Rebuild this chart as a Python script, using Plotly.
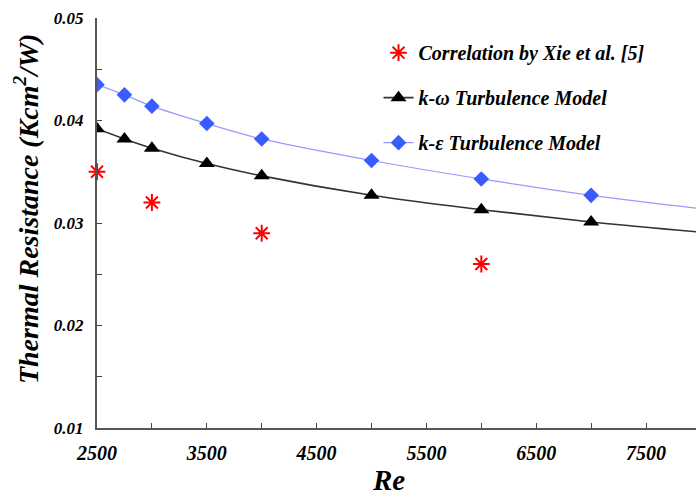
import plotly.graph_objects as go

re_model = [2500, 2750, 3000, 3500, 4000, 5000, 6000, 7000, 8000]
k_omega = [0.0392, 0.0382, 0.0373, 0.0358, 0.0346, 0.0327, 0.0313, 0.0301, 0.0291]
k_eps = [0.0435, 0.0425, 0.0414, 0.0397, 0.0382, 0.0361, 0.0343, 0.0327, 0.0314]
re_corr = [2500, 3000, 4000, 6000, 8000]
corr = [0.035, 0.032, 0.029, 0.026, 0.024]

FONT = "Liberation Serif"

fig = go.Figure()
fig.add_trace(go.Scatter(
    x=re_corr, y=corr, mode="markers", name="Correlation by Xie et al. [5]",
    legendgroup="a",
    marker=dict(symbol="asterisk-open", size=14, color="red",
                line=dict(color="red", width=2)),
    cliponaxis=False))
fig.add_trace(go.Scatter(
    x=re_model, y=k_omega, mode="lines+markers", name="k-ω Turbulence Model",
    legendgroup="b",
    line=dict(color="#333333", width=1.6, shape="spline"),
    marker=dict(symbol="triangle-up", size=14, color="black"),
    cliponaxis=True))
fig.add_trace(go.Scatter(
    x=re_model, y=k_eps, mode="lines+markers", name="k-ε Turbulence Model",
    legendgroup="c",
    line=dict(color="#9999ff", width=1.2, shape="spline"),
    marker=dict(symbol="diamond", size=12, color="#3a5cff"),
    cliponaxis=True))

fig.update_layout(
    width=696, height=495,
    margin=dict(l=97, r=0, t=18, b=67),
    paper_bgcolor="white", plot_bgcolor="white",
    font=dict(family=FONT, color="black"),
    showlegend=True,
    legend=dict(x=0.47, y=0.963, xanchor="left", yanchor="top",
                bgcolor="rgba(0,0,0,0)", tracegroupgap=16, traceorder="grouped",
                font=dict(family=FONT, size=20, style="italic", weight="bold"),
                itemwidth=30),
    annotations=[
        dict(text="Re", xref="paper", yref="paper", x=0.486, y=-0.127,
             xanchor="center", yanchor="middle", showarrow=False,
             font=dict(family=FONT, size=29, style="italic", weight="bold")),
        dict(text="Thermal Resistance (Kcm<sup>2</sup>/W)", xref="paper", yref="paper",
             x=-0.1185, y=0.534, xanchor="center", yanchor="middle", textangle=-90,
             showarrow=False,
             font=dict(family=FONT, size=28, style="italic", weight="bold")),
    ],
)
fig.update_xaxes(
    range=[2500, 7955], tick0=2500, dtick=1000,
    ticks="inside", ticklen=5, tickcolor="#444", showline=True, linecolor="#555", linewidth=2,
    showgrid=False, zeroline=False,
    minor=dict(dtick=500, ticks="inside", ticklen=5, tickcolor="#444"),
    tickfont=dict(family=FONT, size=20, style="italic", weight="bold"),
    ticklabelstandoff=6,
)
fig.update_yaxes(
    range=[0.01, 0.05], tick0=0.01, dtick=0.01, tickformat=".2f",
    ticks="inside", ticklen=5, tickcolor="#444", showline=True, linecolor="#555", linewidth=2,
    showgrid=False, zeroline=False,
    minor=dict(dtick=0.005, ticks="inside", ticklen=5, tickcolor="#444"),
    tickfont=dict(family=FONT, size=17, style="italic", weight="bold"),
    ticklabelstandoff=8,
)
fig.write_html("out.html")
